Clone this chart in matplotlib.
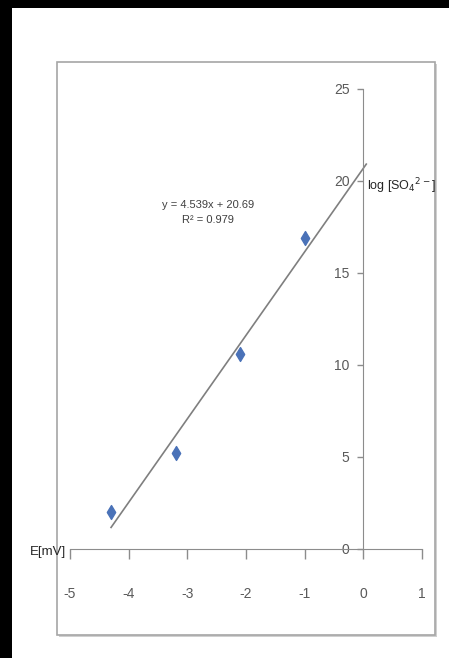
import matplotlib.pyplot as plt
import numpy as np
from matplotlib.patches import Rectangle

# dane z wykresu
e_mv = [-4.3, -3.2, -2.1, -1.0]
log_so4 = [2.0, 5.2, 10.6, 16.9]
slope = 4.539
intercept = 20.69
r2 = 0.979
x_ticks = [-5, -4, -3, -2, -1, 0, 1]
y_ticks = [0, 5, 10, 15, 20, 25]

plt.rcParams['font.family'] = ['Liberation Sans', 'DejaVu Sans']
plt.rcParams['axes.unicode_minus'] = False

W, H = 449, 658
fig = plt.figure(figsize=(W / 100, H / 100), dpi=100)
fig.patch.set_facecolor('black')

# biale tlo i ramka wykresu (jak w Excelu)
fig.add_artist(Rectangle((12 / W, 0), 1, 1 - 8 / H, transform=fig.transFigure,
                         facecolor='white', edgecolor='none', zorder=0))
fig.add_artist(Rectangle((59 / W, 1 - 637 / H), 378 / W, 573 / H, transform=fig.transFigure,
                         facecolor='#d0d0d0', edgecolor='none', zorder=0))
fig.add_artist(Rectangle((57 / W, 1 - 635 / H), 378 / W, 573 / H, transform=fig.transFigure,
                         facecolor='white', edgecolor='#a6a6a6', lw=1.2, zorder=0))

ax = fig.add_axes([70 / W, 1 - 549 / H, 352 / W, 460 / H])
ax.set_facecolor('none')
ax.set_xlim(-5, 1)
ax.set_ylim(0, 25)

xs = np.array([min(e_mv), 0.05])
ax.plot(xs, slope * xs + intercept, color='#7f7f7f', lw=1.2, zorder=2)
ax.scatter(e_mv, log_so4, marker='d', s=50, color='#4a72b8', zorder=3)

for s in ['top', 'right']:
    ax.spines[s].set_visible(False)
ax.spines['left'].set_position(('data', 0))
ax.spines['bottom'].set_position(('data', 0))
ax.spines['left'].set_color('#8c8c8c')
ax.spines['bottom'].set_color('#8c8c8c')

ax.set_xticks(x_ticks)
ax.set_yticks(y_ticks)
ax.tick_params(axis='x', direction='out', length=7, width=1, color='#8c8c8c',
               pad=20, labelsize=10, labelcolor='#595959')
ax.tick_params(axis='y', direction='out', length=4, width=1, color='#8c8c8c',
               pad=6, labelsize=10, labelcolor='#595959')

ax.text(-2.65, 18.3, f'y = {slope}x + {intercept}\nR\u00b2 = {r2}', ha='center', va='center',
        fontsize=8, color='#404040', linespacing=1.6)

fig.text(367 / W, 1 - 186 / H, 'log [SO$_4$$^{2-}$]', ha='left', va='center',
         fontsize=9, color='#262626')
fig.text(30 / W, 1 - 552 / H, 'E[mV]', ha='left', va='center', fontsize=9.5, color='#262626')

fig.savefig('out.png', dpi=100, facecolor=fig.get_facecolor())
